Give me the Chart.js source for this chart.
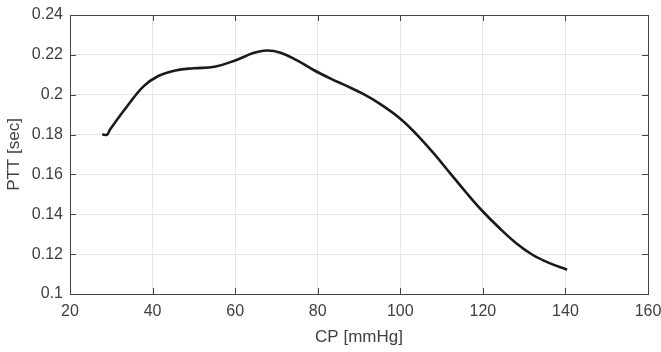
<!DOCTYPE html>
<html>
<head>
<meta charset="utf-8">
<script src="https://cdn.jsdelivr.net/npm/chart.js@4"></script>
<style>
  html, body { margin: 0; padding: 0; background: #fff; }
  #wrap { width: 661px; height: 352px; }
</style>
</head>
<body>
<div id="wrap"><canvas id="pttChart"></canvas></div>
<script>
var cp = [27.8, 29.0, 29.7, 33.7, 37.8, 41.5, 45.5, 50, 55, 60, 64.4, 67.6, 71, 75, 79, 83, 87, 91, 95, 100, 104, 108, 112, 116, 120, 124, 128, 132, 136, 140.4];
var ptt = [0.1800, 0.1800, 0.1825, 0.1938, 0.2042, 0.2095, 0.2122, 0.2133, 0.2140, 0.2172, 0.2209, 0.2222, 0.2211, 0.2172, 0.2124, 0.2082, 0.2044, 0.2004, 0.1955, 0.1880, 0.1800, 0.1708, 0.1608, 0.1508, 0.1414, 0.1331, 0.1256, 0.1197, 0.1156, 0.1122];
var xTicks = [20, 40, 60, 80, 100, 120, 140, 160];
var yTicks = [0.1, 0.12, 0.14, 0.16, 0.18, 0.2, 0.22, 0.24];

var points = cp.map(function (x, i) { return { x: x, y: ptt[i] }; });

// box around the plot with inward tick marks, matlab style
var boxTicks = {
    id: "boxTicks",
    afterDatasetsDraw: function (chart) {
        var c = chart.ctx, a = chart.chartArea;
        var xs = chart.scales.x, ys = chart.scales.y;
        var len = 6;
        c.save();
        c.strokeStyle = "#444";
        c.lineWidth = 1;
        c.beginPath();
        xTicks.forEach(function (t) {
            var px = Math.round(xs.getPixelForValue(t)) + 0.5;
            c.moveTo(px, a.bottom); c.lineTo(px, a.bottom - len);
            c.moveTo(px, a.top); c.lineTo(px, a.top + len);
        });
        yTicks.forEach(function (t) {
            var py = Math.round(ys.getPixelForValue(t)) + 0.5;
            c.moveTo(a.left, py); c.lineTo(a.left + len, py);
            c.moveTo(a.right, py); c.lineTo(a.right - len, py);
        });
        c.stroke();
        c.strokeRect(Math.round(a.left) + 0.5, Math.round(a.top) + 0.5,
            Math.round(a.right - a.left), Math.round(a.bottom - a.top));
        c.restore();
    }
};

var ctx = document.getElementById("pttChart").getContext("2d");

var chart = new Chart(ctx, {
    type: "scatter",
    data: {
        datasets: [
            {
                data: points,
                showLine: true,
                borderColor: "#1a1a1a",
                borderWidth: 2.6,
                pointRadius: 0,
                tension: 0.4,
            },
        ],
    },
    options: {
        responsive: true,
        maintainAspectRatio: false,
        animation: false,
        layout: { padding: { top: 15, right: 13, left: 0, bottom: 0 } },
        scales: {
            x: {
                type: "linear",
                min: 20,
                max: 160,
                afterBuildTicks: function (s) { s.ticks = xTicks.map(function (v) { return { value: v }; }); },
                afterFit: function (s) { s.height = 58; s.paddingRight = 0; s.paddingLeft = 0; },
                ticks: {
                    color: "#404040",
                    font: { family: "'Liberation Sans', Arial, sans-serif", size: 16 },
                    padding: 8,
                    maxRotation: 0,
                },
                grid: { color: "#e6e6e6", drawTicks: false },
                border: { display: false },
                title: {
                    display: true,
                    text: "CP [mmHg]",
                    color: "#404040",
                    font: { family: "'Liberation Sans', Arial, sans-serif", size: 17 },
                },
            },
            y: {
                type: "linear",
                min: 0.1,
                max: 0.24,
                afterBuildTicks: function (s) { s.ticks = yTicks.map(function (v) { return { value: v }; }); },
                afterFit: function (s) { s.width = 70; s.paddingTop = 0; s.paddingBottom = 0; },
                ticks: {
                    color: "#404040",
                    font: { family: "'Liberation Sans', Arial, sans-serif", size: 16 },
                    padding: 7,
                    callback: function (v) { return String(Number(v.toFixed(2))); },
                },
                grid: { color: "#e6e6e6", drawTicks: false },
                border: { display: false },
                title: {
                    display: true,
                    text: "PTT [sec]",
                    color: "#404040",
                    font: { family: "'Liberation Sans', Arial, sans-serif", size: 17 },
                },
            },
        },
        plugins: {
            legend: { display: false },
            tooltip: { enabled: false },
        },
    },
    plugins: [boxTicks],
});
</script>
</body>
</html>
